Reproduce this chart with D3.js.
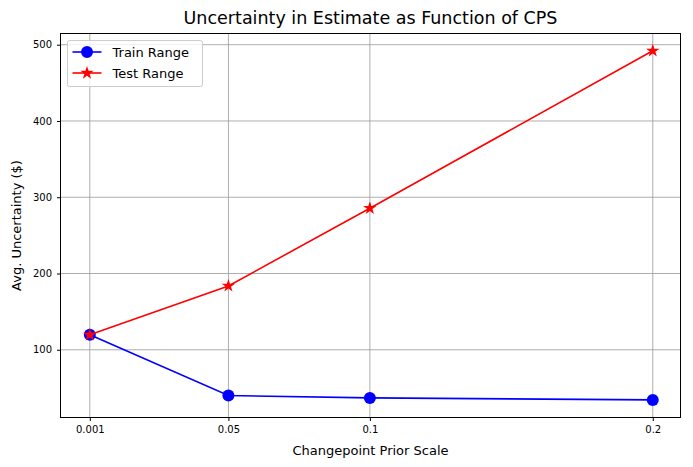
<!DOCTYPE html>
<html>
<head>
<meta charset="utf-8">
<script src="https://cdn.jsdelivr.net/npm/d3@7"></script>
<style>
body { margin: 0; background: #fff; }
text { font-family: "DejaVu Sans", sans-serif; fill: #000; }
</style>
</head>
<body>
<div id="chart"></div>
<script>
// data
var cpsValues = [0.001, 0.05, 0.1, 0.2];
var trainRange = [119.6, 40, 36.9, 34.3];
var testRange = [119.6, 183.7, 285.6, 492];
var xTicks = [0.001, 0.05, 0.1, 0.2];
var yTicks = [100, 200, 300, 400, 500];

var width = 693, height = 467;
var plotLeft = 60.5, plotRight = 680.5, plotTop = 33.5, plotBottom = 417.5;

var svg = d3.select("#chart").append("svg")
  .attr("width", width)
  .attr("height", height);

var x = d3.scaleLinear().domain([-0.00936, 0.2098]).range([plotLeft, plotRight]);
var y = d3.scaleLinear().domain([11.2, 514.7]).range([plotBottom, plotTop]);

// GRID
svg.append("g").selectAll("line")
  .data(xTicks).enter()
  .append("line")
  .attr("x1", function(d){ return x(d); })
  .attr("x2", function(d){ return x(d); })
  .attr("y1", plotTop).attr("y2", plotBottom)
  .attr("stroke", "#999999").attr("stroke-width", 0.8);
svg.append("g").selectAll("line")
  .data(yTicks).enter()
  .append("line")
  .attr("y1", function(d){ return y(d); })
  .attr("y2", function(d){ return y(d); })
  .attr("x1", plotLeft).attr("x2", plotRight)
  .attr("stroke", "#999999").attr("stroke-width", 0.8);

// AXES
var xAxis = svg.append("g")
  .attr("transform", "translate(0," + plotBottom + ")")
  .call(d3.axisBottom(x).tickValues(xTicks).tickFormat(function(d){ return "" + d; }).tickSize(3.5).tickPadding(5));
var yAxis = svg.append("g")
  .attr("transform", "translate(" + plotLeft + ",0)")
  .call(d3.axisLeft(y).tickValues(yTicks).tickSize(3.5).tickPadding(5));
[xAxis, yAxis].forEach(function(a){
  a.select(".domain").remove();
  a.selectAll("text").attr("font-size", "10px").attr("font-family", "DejaVu Sans").attr("fill", "#000");
  a.selectAll("line").attr("stroke", "#000");
});

svg.append("rect")
  .attr("x", plotLeft).attr("y", plotTop)
  .attr("width", plotRight - plotLeft).attr("height", plotBottom - plotTop)
  .attr("fill", "none").attr("stroke", "#000").attr("stroke-width", 1);

// LINES
var line = d3.line()
  .x(function(d){ return x(d[0]); })
  .y(function(d){ return y(d[1]); });

var trainData = cpsValues.map(function(c, i){ return [c, trainRange[i]]; });
var testData = cpsValues.map(function(c, i){ return [c, testRange[i]]; });

svg.append("path").datum(trainData)
  .attr("d", line).attr("fill", "none")
  .attr("stroke", "#0000ff").attr("stroke-width", 1.6);
svg.append("g").selectAll("circle")
  .data(trainData).enter()
  .append("circle")
  .attr("cx", function(d){ return x(d[0]); })
  .attr("cy", function(d){ return y(d[1]); })
  .attr("r", 6)
  .attr("fill", "#0000ff");

var star = d3.symbol().type(d3.symbolStar).size(55);
svg.append("path").datum(testData)
  .attr("d", line).attr("fill", "none")
  .attr("stroke", "#ff0000").attr("stroke-width", 1.6);
svg.append("g").selectAll("path")
  .data(testData).enter()
  .append("path")
  .attr("d", star)
  .attr("transform", function(d){ return "translate(" + x(d[0]) + "," + y(d[1]) + ")"; })
  .attr("fill", "#ff0000");

// LEGEND
var legend = svg.append("g").attr("transform", "translate(67.5,40.5)");
legend.append("rect")
  .attr("width", 135).attr("height", 46).attr("rx", 2)
  .attr("fill", "#fff").attr("fill-opacity", 0.8)
  .attr("stroke", "#cccccc");
var legendItems = [
  {label: "Train Range", color: "#0000ff", type: "circle"},
  {label: "Test Range", color: "#ff0000", type: "star"}
];
var items = legend.selectAll(".item")
  .data(legendItems).enter()
  .append("g")
  .attr("transform", function(d, i){ return "translate(0," + (11.5 + i * 21) + ")"; });
items.append("line")
  .attr("x1", 5).attr("x2", 34)
  .attr("stroke", function(d){ return d.color; }).attr("stroke-width", 1.6);
items.append("path")
  .attr("d", function(d){
    return d.type === "circle" ? d3.symbol().type(d3.symbolCircle).size(113)() : star();
  })
  .attr("transform", "translate(19.5,0)")
  .attr("fill", function(d){ return d.color; });
items.append("text")
  .attr("x", 45).attr("dy", "0.35em")
  .attr("font-size", "13px")
  .text(function(d){ return d.label; });

// LABELS
svg.append("text")
  .attr("x", (plotLeft + plotRight) / 2).attr("y", 24)
  .attr("text-anchor", "middle").attr("font-size", "17.5px")
  .text("Uncertainty in Estimate as Function of CPS");
svg.append("text")
  .attr("x", (plotLeft + plotRight) / 2).attr("y", 455)
  .attr("text-anchor", "middle").attr("font-size", "13px")
  .text("Changepoint Prior Scale");
svg.append("text")
  .attr("transform", "translate(21," + ((plotTop + plotBottom) / 2) + ") rotate(-90)")
  .attr("text-anchor", "middle").attr("font-size", "13px")
  .text("Avg. Uncertainty ($)");
</script>
</body>
</html>
